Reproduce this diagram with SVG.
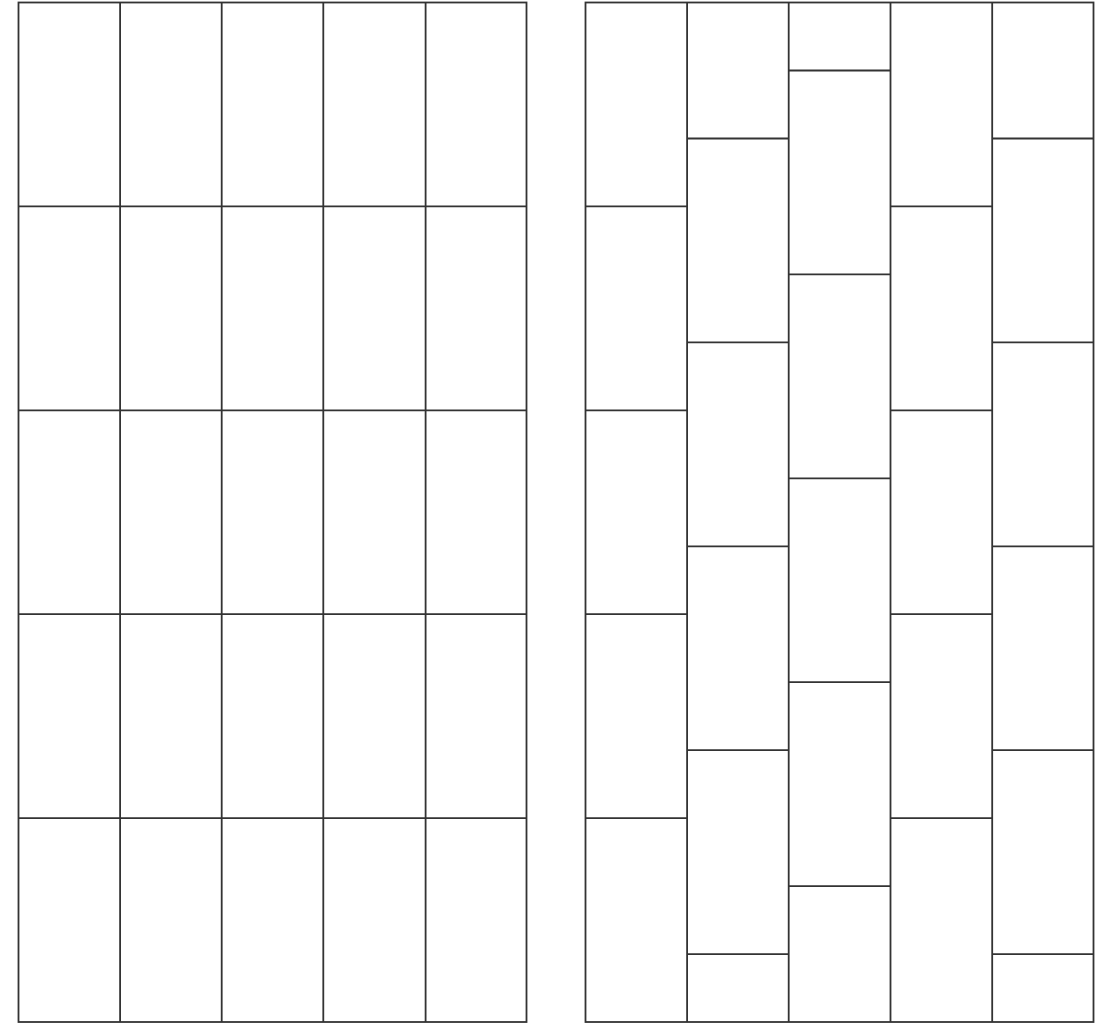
<svg xmlns="http://www.w3.org/2000/svg" width="1097" height="1023" viewBox="0 0 1097 1023">
<style>
.t{fill:#fff;stroke:#333;stroke-width:1.8}
</style>
<rect width="1097" height="1023" fill="#fff"/>
<g id="grid-left">
<rect class="t" x="18.5" y="2.5" width="508" height="1019.5"/>
<path class="t" fill="none" d="M120.1 2.5V1022M221.7 2.5V1022M323.3 2.5V1022M425.6 2.5V1022M18.5 206.4H526.5M18.5 410.3H526.5M18.5 614.2H526.5M18.5 818.1H526.5"/>
</g>
<g id="grid-right">
<rect class="t" x="585.5" y="2.5" width="508" height="1019.5"/>
<path class="t" fill="none" d="M687.1 2.5V1022M788.7 2.5V1022M890.5 2.5V1022M992.2 2.5V1022"/>
<path class="t" fill="none" d="M585.5 206.4H687.1M585.5 410.3H687.1M585.5 614.2H687.1M585.5 818.1H687.1"/>
<path class="t" fill="none" d="M687.1 138.5H788.7M687.1 342.4H788.7M687.1 546.3H788.7M687.1 750.2H788.7M687.1 954.1H788.7"/>
<path class="t" fill="none" d="M788.7 70.5H890.5M788.7 274.4H890.5M788.7 478.3H890.5M788.7 682.2H890.5M788.7 886.1H890.5"/>
<path class="t" fill="none" d="M890.5 206.4H992.2M890.5 410.3H992.2M890.5 614.2H992.2M890.5 818.1H992.2"/>
<path class="t" fill="none" d="M992.2 138.5H1093.5M992.2 342.4H1093.5M992.2 546.3H1093.5M992.2 750.2H1093.5M992.2 954.1H1093.5"/>
</g>
</svg>
